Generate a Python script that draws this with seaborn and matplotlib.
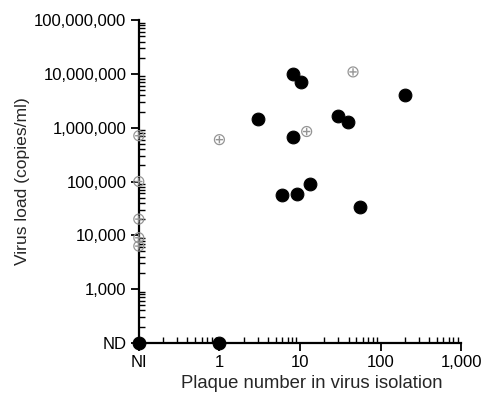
import numpy as np
import pandas as pd
import seaborn as sns
import matplotlib.pyplot as plt
from matplotlib.ticker import FixedLocator, FixedFormatter, LogLocator, NullFormatter

# NI plotted at 0.1 on x, ND plotted at 100 on y
isolated_plaques = [0.1, 1, 3.0, 8.1, 10.2, 8.1, 6.0, 9.1, 13.2, 29.7, 39.9, 200, 55.6]
isolated_load = [100, 100, 1.47e6, 1.0e7, 7.2e6, 6.7e5, 5.6e4, 5.9e4, 8.8e4, 1.67e6, 1.27e6, 4.1e6, 3.4e4]

other_plaques = [1, 12.1, 45.5, 0.1, 0.1, 0.1, 0.1, 0.1]
other_load = [6.0e5, 8.5e5, 1.09e7, 7.1e5, 1.0e5, 2.0e4, 9.0e3, 6.3e3]

x_ticks = [0.1, 1, 10, 100, 1000]
x_labels = ['NI', '1', '10', '100', '1,000']
y_ticks = [100, 1e3, 1e4, 1e5, 1e6, 1e7, 1e8]
y_labels = ['ND', '1,000', '10,000', '100,000', '1,000,000', '10,000,000', '100,000,000']

sns.set_style('ticks')
plt.rcParams['font.family'] = ['Liberation Sans', 'DejaVu Sans']

df_a = pd.DataFrame({'plaques': isolated_plaques, 'load': isolated_load})
df_b = pd.DataFrame({'plaques': other_plaques, 'load': other_load})

fig = plt.figure(figsize=(4.87, 3.95), dpi=100)
ax = fig.add_axes([0.285, 0.132, 0.662, 0.817])

sns.scatterplot(data=df_b, x='plaques', y='load', ax=ax, marker=r'$\oplus$',
                s=65, color='#959595', edgecolor='none', clip_on=False, zorder=3)
sns.scatterplot(data=df_a, x='plaques', y='load', ax=ax, marker='o',
                s=85, color='black', edgecolor='black', clip_on=False, zorder=4)

ax.set_xscale('log')
ax.set_yscale('log')
ax.set_xlim(0.1, 1000)
ax.set_ylim(100, 1e8)

ax.xaxis.set_major_locator(FixedLocator(x_ticks))
ax.xaxis.set_major_formatter(FixedFormatter(x_labels))
ax.yaxis.set_major_locator(FixedLocator(y_ticks))
ax.yaxis.set_major_formatter(FixedFormatter(y_labels))
ax.xaxis.set_minor_locator(LogLocator(base=10, subs=np.arange(2, 10)))
ax.yaxis.set_minor_locator(LogLocator(base=10, subs=np.arange(2, 10)))
ax.xaxis.set_minor_formatter(NullFormatter())
ax.yaxis.set_minor_formatter(NullFormatter())

ax.tick_params(which='major', direction='out', length=6, width=1.3, labelsize=12, pad=3, colors='black')
ax.tick_params(which='minor', direction='in', length=4, width=1.0, colors='black')

sns.despine(ax=ax)
for side in ['left', 'bottom']:
    ax.spines[side].set_linewidth(1.6)
    ax.spines[side].set_color('black')

ax.set_xlabel('Plaque number in virus isolation', fontsize=13.3, labelpad=3, x=0.537)
ax.set_ylabel('Virus load (copies/ml)', fontsize=12.6, labelpad=3)

fig.savefig('out.png', dpi=100)
